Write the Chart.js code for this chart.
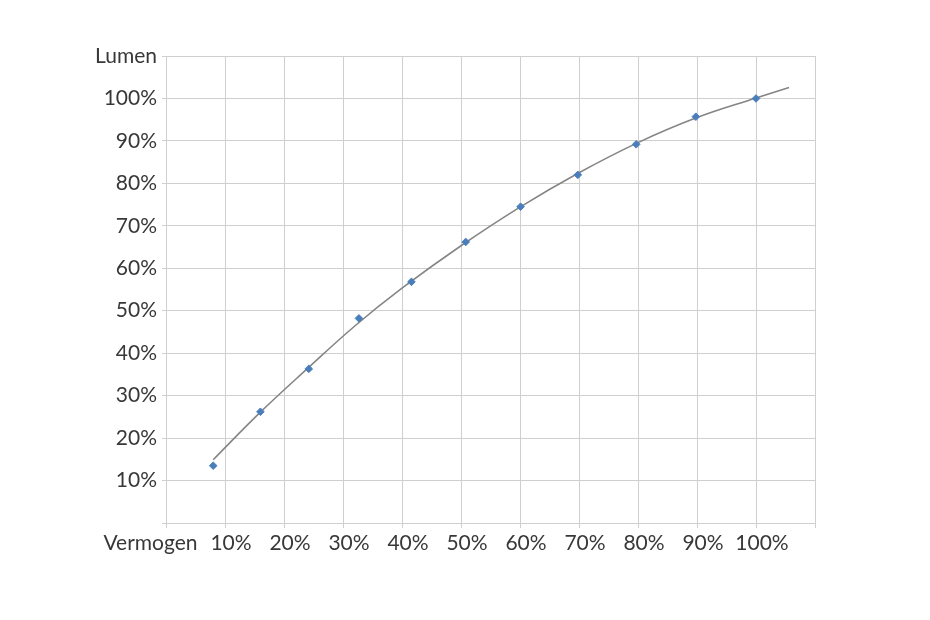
<!DOCTYPE html>
<html>
<head>
<meta charset="utf-8">
<script src="https://cdn.jsdelivr.net/npm/chart.js@4"></script>
<style>
  html, body { margin: 0; padding: 0; background: #ffffff; }
  #wrap { width: 930px; height: 620px; }
</style>
</head>
<body>
<div id="wrap"><canvas id="c" width="930" height="620"></canvas></div>
<script>
// Measured points: power (Vermogen) vs light output (Lumen), in %
const powerPct = [8, 16, 24.2, 32.7, 41.6, 50.8, 60.1, 69.8, 79.7, 89.8, 100];
const lumenPct = [13.5, 26.2, 36.3, 48.2, 56.8, 66.2, 74.5, 82.0, 89.2, 95.7, 100];

// Trendline
const trendX = [8, 16, 24, 32, 40, 50, 60, 70, 80, 90, 100, 105.6];
const trendY = [14.9, 26.1, 36.4, 46.4, 55.3, 65.3, 74.4, 82.5, 89.6, 95.5, 100.1, 102.6];

// Axis texts
const xAxisName = "Vermogen";
const yAxisName = "Lumen";
const axisMin = 0;
const axisMax = 110;
const axisStep = 10;

const scatterData = powerPct.map((x, i) => ({ x: x, y: lumenPct[i] }));
const trendData = trendX.map((x, i) => ({ x: x, y: trendY[i] }));

const textColor = '#383838';
const gridColor = '#cfcfcf';
const font = { family: 'Lato, "Open Sans", sans-serif', size: 21 };

new Chart(document.getElementById('c'), {
  type: 'scatter',
  data: {
    datasets: [
      {
        label: 'Meting',
        data: scatterData,
        pointStyle: 'rectRot',
        pointRadius: 3.8,
        pointBackgroundColor: '#4a7ebb',
        pointBorderColor: '#4a7ebb',
        showLine: false,
        order: 0
      },
      {
        label: 'Trend',
        data: trendData,
        showLine: true,
        borderColor: '#858585',
        borderWidth: 1.6,
        pointRadius: 0,
        tension: 0.4,
        fill: false,
        order: 1
      }
    ]
  },
  options: {
    responsive: false,
    animation: false,
    layout: { padding: { top: 56, right: 115, left: 0, bottom: 0 } },
    plugins: {
      legend: { display: false },
      tooltip: { enabled: false }
    },
    scales: {
      x: {
        type: 'linear',
        min: axisMin,
        max: axisMax,
        afterFit: (s) => { s.height = 620 - 523; },
        grid: { color: gridColor, lineWidth: 1, tickLength: 5, drawTicks: true },
        border: { color: gridColor, width: 1 },
        ticks: {
          stepSize: axisStep,
          autoSkip: false,
          maxRotation: 0,
          minRotation: 0,
          padding: 3,
          labelOffset: 6,
          color: textColor,
          font: font,
          callback: (v) => {
            if (v === axisMin) return xAxisName + '\u00a0\u00a0\u00a0\u00a0\u00a0\u00a0\u00a0\u00a0';
            if (v === axisMax) return '';
            return v + '%';
          }
        }
      },
      y: {
        type: 'linear',
        min: axisMin,
        max: axisMax,
        afterFit: (s) => { s.width = 166; },
        grid: { color: gridColor, lineWidth: 1, tickLength: 4, drawTicks: true },
        border: { color: gridColor, width: 1 },
        ticks: {
          stepSize: axisStep,
          autoSkip: false,
          padding: 5,
          color: textColor,
          font: font,
          callback: (v) => {
            if (v === axisMax) return yAxisName;
            if (v === axisMin) return '';
            return v + '%';
          }
        }
      }
    }
  }
});
</script>
</body>
</html>
